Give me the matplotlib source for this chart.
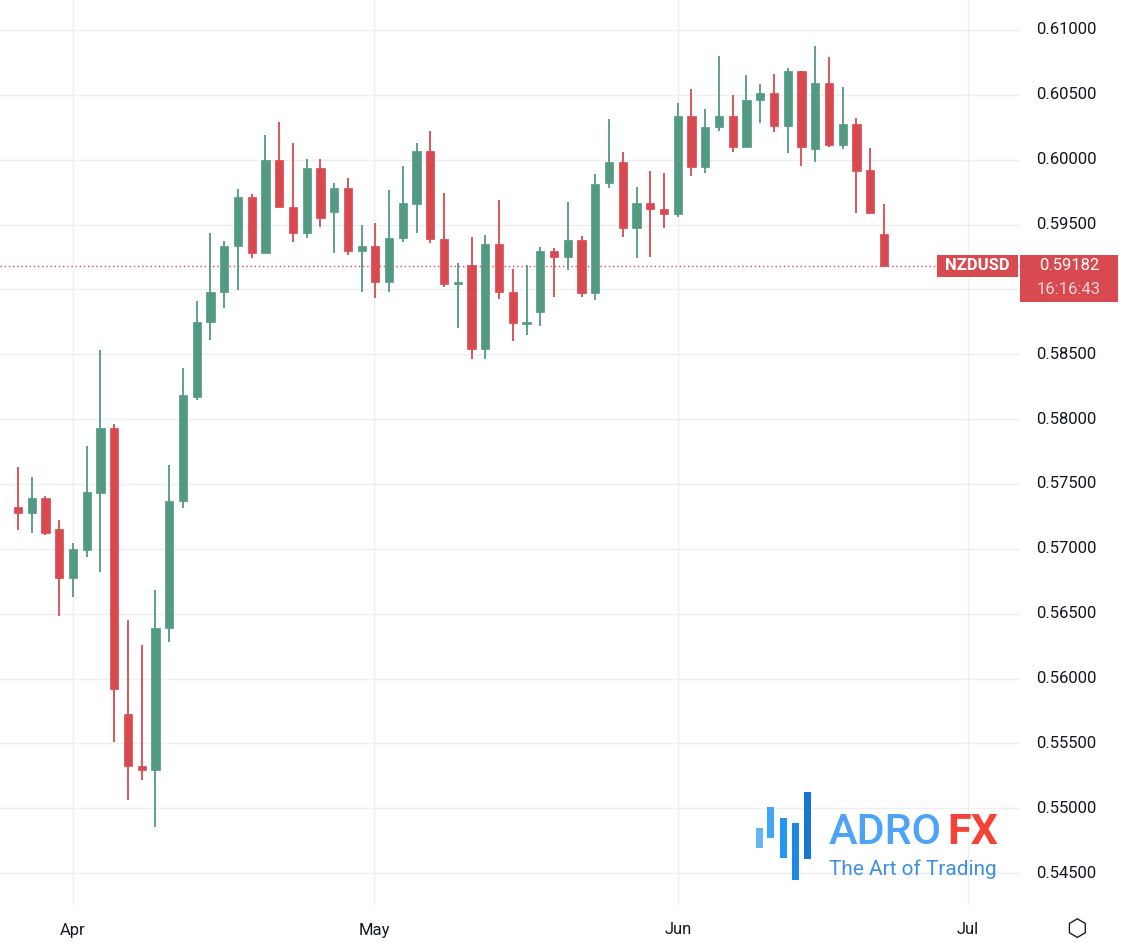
import matplotlib
matplotlib.use("Agg")
import matplotlib.pyplot as plt
from matplotlib.patches import Rectangle

plt.rcParams['font.family'] = ['Roboto', 'DejaVu Sans']

opens = [.57322,.57276,.57392,.57153,.56775,.56991,.57430,.57931,.55726,.55325,
         .55295,.56390,.57369,.58170,.58749,.58980,.59335,.59712,.59281,.59998,
         .59635,.59435,.59936,.59597,.59782,.59296,.59335,.59057,.59396,.59658,
         .60067,.59389,.59042,.59188,.58540,.59350,.58980,.58733,.58826,.59296,
         .59250,.59381,.58972,.59820,.59982,.59473,.59666,.59620,.59581,.60337,
         .59944,.60252,.60337,.60098,.60460,.60514,.60260,.60684,.60083,.60591,
         .60113,.60275,.59921,.59427]
highs = [.57631,.57554,.57407,.57222,.57045,.57793,.58533,.57962,.56451,.56258,
         .56682,.57646,.58394,.58911,.59435,.59373,.59774,.59736,.60190,.60291,
         .60129,.60005,.60005,.59820,.59859,.59497,.59512,.59766,.59951,.60129,
         .60221,.59743,.59204,.59404,.59419,.59689,.59157,.59188,.59327,.59319,
         .59674,.59411,.59890,.60314,.60059,.59790,.59913,.59897,.60437,.60545,
         .60391,.60800,.60499,.60653,.60584,.60661,.60707,.60684,.60877,.60792,
         .60561,.60322,.60090,.59658]
lows = [.57145,.57122,.57106,.56482,.56628,.56937,.56821,.55510,.55063,.55217,
        .54855,.56282,.57315,.58147,.58610,.58857,.58995,.59242,.59281,.59635,
        .59365,.59396,.59481,.59281,.59265,.58980,.58934,.58980,.59365,.59435,
        .59358,.59019,.58702,.58463,.58463,.58926,.58602,.58648,.58718,.58941,
        .59150,.58941,.58918,.59782,.59404,.59242,.59250,.59473,.59558,.59874,
        .59897,.60221,.60059,.60098,.60283,.60214,.60052,.59951,.59982,.60098,
        .60083,.59589,.59589,.59182]
closes = [.57276,.57392,.57122,.56775,.56998,.57438,.57931,.55919,.55325,.55295,
          .56390,.57369,.58186,.58749,.58980,.59335,.59712,.59281,.59998,.59635,
          .59435,.59936,.59550,.59782,.59296,.59335,.59057,.59396,.59666,.60067,
          .59389,.59042,.59057,.58540,.59350,.58980,.58741,.58749,.59296,.59250,
          .59381,.58972,.59813,.59982,.59473,.59666,.59620,.59581,.60337,.59944,
          .60252,.60337,.60098,.60460,.60514,.60260,.60684,.60098,.60591,.60113,
          .60275,.59913,.59589,.59182]
month_labels = ['Apr', 'May', 'Jun', 'Jul']
month_pos = [4, 25.9, 48, 69.1]
ytick_vals = [0.545, 0.55, 0.555, 0.56, 0.565, 0.57, 0.575, 0.58, 0.585, 0.59, 0.595, 0.60, 0.605, 0.61]
symbol = 'NZDUSD'
last_price = 0.59182
timer = '16:16:43'

GREEN = '#529a81'
RED = '#d84a50'
W, H = 1125, 949
fig = plt.figure(figsize=(W/100, H/100), dpi=100)
ax = fig.add_axes([0, 1-905/H, 1020/W, 905/H])
ax.set_xlim(-1.31, 72.9)
ax.set_ylim(0.54254, 0.61231)
for s in ax.spines.values():
    s.set_visible(False)
ax.set_xticks([]); ax.set_yticks([])
for v in ytick_vals:
    ax.axhline(v, color='#efefef', lw=1, zorder=0)
for p in month_pos:
    ax.axvline(p, color='#efefef', lw=1, zorder=0)

bw = 0.6
for i, (o, h, l, c) in enumerate(zip(opens, highs, lows, closes)):
    col = GREEN if c >= o else RED
    ax.vlines(i, l, h, color=col, lw=1.3, zorder=2)
    bot = min(o, c); ht = max(abs(c - o), 0.00006)
    ax.add_patch(Rectangle((i - bw/2, bot), bw, ht, facecolor=col, edgecolor=col, lw=0.5, zorder=3))

ax.axhline(last_price, color=RED, lw=1, ls=(0, (1, 2)), zorder=1)

# right axis labels (the one hidden behind the price label is skipped)
for v in ytick_vals:
    if abs(v - last_price) < 0.0025:
        continue
    y = ax.transData.transform((0, v))[1] / H
    fig.text(1036/W, y, f'{v:.5f}', fontsize=12, color='#131722', va='center', ha='left')
for lab, p in zip(month_labels, month_pos):
    x = ax.transData.transform((p, 0))[0] / W
    fig.text(x, 1-930/H, lab, fontsize=12, color='#131722', ha='center', va='center')

# price label
fig.patches.append(Rectangle((937/W, 1-277/H), 81/W, 22/H, transform=fig.transFigure, facecolor=RED, edgecolor='none'))
fig.text(977/W, 1-266/H, symbol, fontsize=12, color='white', ha='center', va='center', weight='bold')
fig.patches.append(Rectangle((1020/W, 1-302/H), 98/W, 47/H, transform=fig.transFigure, facecolor=RED, edgecolor='none'))
fig.text(1069/W, 1-266/H, f'{last_price:.5f}', fontsize=12, color='white', ha='center', va='center')
fig.text(1069/W, 1-290/H, timer, fontsize=12, color='#f6d6d7', ha='center', va='center')

# gear icon
fig.text(1077/W, 1-930/H, '⬡', fontsize=17, color='#131722', ha='center', va='center', family=['DejaVu Sans'])

# logo
bars = [(756, 828, 848, '#64b5f6'), (767, 807, 838, '#42a5f5'), (780, 818, 858, '#2196f3'),
        (792, 823, 880, '#1e88e5'), (804, 792, 859, '#1976d2')]
for x0, y0, y1, c in bars:
    fig.patches.append(Rectangle((x0/W, 1-y1/H), 7/W, (y1-y0)/H, transform=fig.transFigure, facecolor=c, edgecolor='none'))
fig.text(829/W, 1-832/H, 'ADRO', fontsize=31, color='#4da3f5', ha='left', va='center', weight='medium')
fig.text(947/W, 1-832/H, 'FX', fontsize=31, color='#f44336', ha='left', va='center', weight='bold')
fig.text(829/W, 1-869/H, 'The Art of Trading', fontsize=15, color='#3f8fe0', ha='left', va='center')

fig.savefig('out.png', dpi=100, facecolor='white')
